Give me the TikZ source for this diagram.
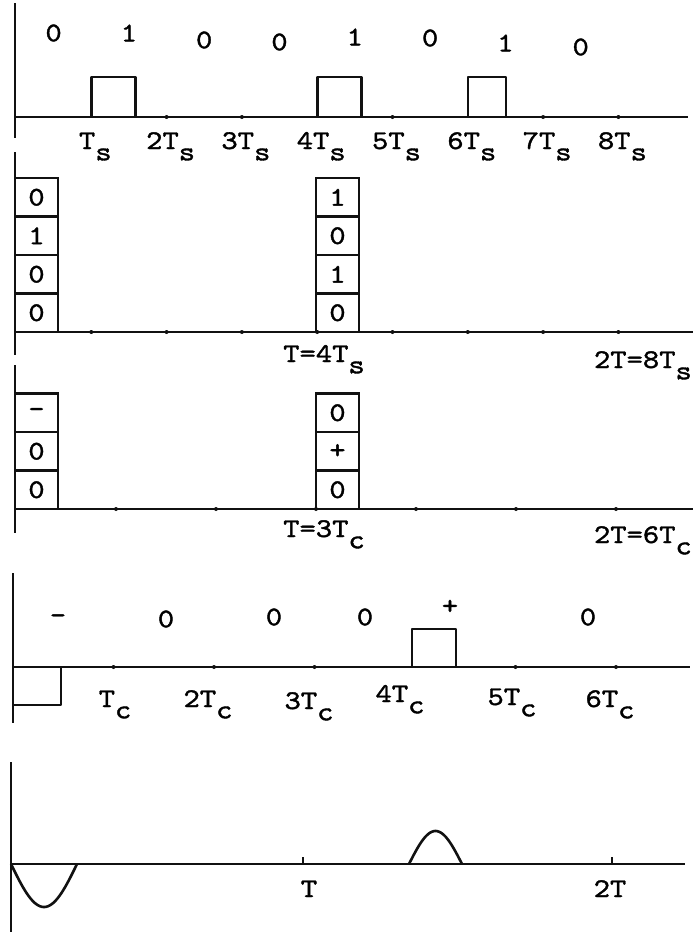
\documentclass[tikz,border=0pt]{standalone}
\usepackage{fontspec}
\setmonofont{lmmono10-regular.otf}[FakeBold=1.4,FakeStretch=1.15]
\usepackage{tikz}
\usetikzlibrary{positioning}
\definecolor{ink}{HTML}{111111}
\newcommand{\tw}{\ttfamily\fontsize{27}{31}\selectfont}
\newcommand{\lowsub}[1]{\raisebox{-.42em}{#1}}
\tikzset{
  axisline/.style={draw=ink, line width=2.4pt},
  wave/.style={draw=ink, line width=2.6pt, line join=round},
  cell/.style={rectangle, draw=ink, line width=2.6pt, outer sep=0pt,
    minimum width=43pt, minimum height=38.5pt, inner sep=0pt,
    font=\tw, anchor=south west},
  sym/.style={font=\tw, inner sep=0pt},
  lbl/.style={font=\tw, inner sep=0pt, anchor=base},
  dotmark/.style={fill=ink},
}

\begin{document}
\begin{tikzpicture}[x=1pt, y=-1pt]
  \useasboundingbox (0,0) rectangle (693,937);
  % binary sequence
  \draw[axisline] (15,3) -- (15,138);
  \draw[axisline] (15,117) -- (688,117);
  \foreach \k in {2,3,5,7,8} { \fill[dotmark] (16+75.3*\k,117) circle (2pt); }
  \foreach \k/\w in {1/44,4/44,6/38} { \draw[wave] (16+75.3*\k,117) -- ++(0,-40) -- ++(\w,0) -- ++(0,40); }
  \foreach \k/\b/\y in {0/0/33,1/1/33,2/0/40,3/0/42,4/1/37,5/0/38,6/1/43,7/0/47}
    { \node[sym] (bit\k) at (53.6+75.3*\k,\y) {\b}; }
  \foreach \k/\n in {1/{},2/2,3/3,4/4,5/5,6/6,7/7,8/8}
    { \node[lbl] (ts\k) at (20+75.3*\k,149) {\n T\lowsub{s}}; }

  % 4-bit words
  \draw[axisline] (15,152) -- (15,355);
  \draw[axisline] (15,332) -- (693,332);
  \foreach \k in {1,...,8} { \fill[dotmark] (16+75.3*\k,332) circle (2pt); }
  \node[cell] (wa4) at (15,332) {0};
  \node[cell, above=0pt of wa4] (wa3) {0};
  \node[cell, above=0pt of wa3] (wa2) {1};
  \node[cell, above=0pt of wa2] (wa1) {0};
  \node[cell] (wb4) at (316,332) {0};
  \node[cell, above=0pt of wb4] (wb3) {1};
  \node[cell, above=0pt of wb3] (wb2) {0};
  \node[cell, above=0pt of wb2] (wb1) {1};
  \node[lbl] (per1) at (324,362) {T=4T\lowsub{s}};
  \node[lbl, anchor=base east] (per2) at (692,368) {2T=8T\lowsub{s}};

  % 3-symbol ternary words
  \draw[axisline] (15,365) -- (15,533);
  \draw[axisline] (15,509) -- (693,509);
  \foreach \k in {1,...,6} { \fill[dotmark] (16+100*\k,509) circle (2pt); }
  \node[cell] (ta3) at (15,509) {0};
  \node[cell, above=0pt of ta3] (ta2) {0};
  \node[cell, above=0pt of ta2] (ta1) {-};
  \node[cell] (tb3) at (316,509) {0};
  \node[cell, above=0pt of tb3] (tb2) {+};
  \node[cell, above=0pt of tb2] (tb1) {0};
  \node[lbl] (per3) at (324,537) {T=3T\lowsub{c}};
  \node[lbl, anchor=base east] (per4) at (692,543) {2T=6T\lowsub{c}};

  % ternary signal
  \draw[axisline] (13,573) -- (13,723);
  \draw[axisline] (13,667) -- (690,667);
  \foreach \k in {1,2,3,5,6} { \fill[dotmark] (13+100.5*\k,667) circle (2pt); }
  \draw[wave] (13,705) -- (61,705) -- (61,667);
  \draw[wave] (412,667) -- (412,629) -- (456,629) -- (456,667);
  \foreach \i/\x/\y/\s in {1/58/619/-,2/166/619/0,3/274/617/0,4/365/617/0,5/450/607/+,6/588/617/0}
    { \node[sym] (tern\i) at (\x,\y) {\s}; }
  \foreach \k/\n/\x/\y in {1/{}/115/707,2/2/208/707,3/3/309/709,4/4/400/702,5/5/512/705,6/6/610/707}
    { \node[lbl] (tc\k) at (\x,\y) {\n T\lowsub{c}}; }

  % shaped pulses
  \draw[axisline] (11,762) -- (11,932);
  \draw[axisline] (11,864) -- (685,864);
  \draw[wave] plot[domain=0:1, samples=40, smooth] ({11+66*\x},{864+43*sin(180*\x)});
  \draw[wave] plot[domain=0:1, samples=40, smooth] ({409+53*\x},{864-33*sin(180*\x)});
  \draw[axisline] (303,864) -- ++(0,-7);
  \draw[axisline] (612,864) -- ++(0,-7);
  \node[lbl] (tt1) at (309,897) {T};
  \node[lbl] (tt2) at (610,897) {2T};
\end{tikzpicture}
\end{document}
